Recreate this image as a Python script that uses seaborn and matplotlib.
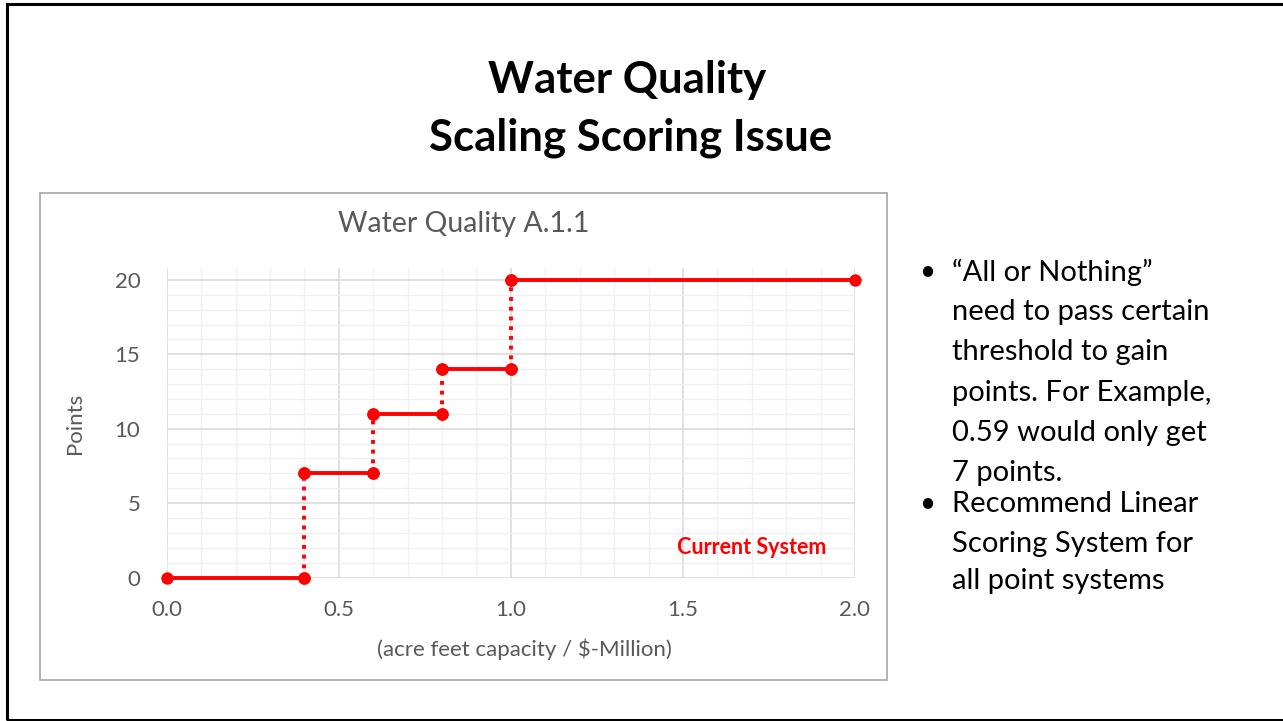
import matplotlib
matplotlib.use('Agg')
import numpy as np
import pandas as pd
import seaborn as sns
import matplotlib.pyplot as plt
from matplotlib.patches import Rectangle
from matplotlib.ticker import MultipleLocator

# ----------------------------- data -----------------------------
thresholds = [0.0, 0.4, 0.6, 0.8, 1.0, 2.0]   # acre feet capacity / $-Million
scores = [0, 7, 11, 14, 20]                    # points awarded per band
x_ticks = [0.0, 0.5, 1.0, 1.5, 2.0]
y_ticks = [0, 5, 10, 15, 20]

title_lines = ["Water Quality", "Scaling Scoring Issue"]
chart_title = "Water Quality A.1.1"
x_label = "(acre feet capacity / \\$-Million)"
y_label = "Points"
series_note = "Current System"
bullets = [
    ["\u201cAll or Nothing\u201d", "need to pass certain", "threshold to gain",
     "points. For Example,", "0.59 would only get", "7 points."],
    ["Recommend Linear", "Scoring System for", "all point systems"],
]

# build step segments: flat bands (solid) and jumps (dotted)
rows = []
seg = 0
for i, s in enumerate(scores):
    rows.append((seg, 'band', thresholds[i], s))
    rows.append((seg, 'band', thresholds[i + 1], s))
    seg += 1
    if i + 1 < len(scores):
        rows.append((seg, 'jump', thresholds[i + 1], s))
        rows.append((seg, 'jump', thresholds[i + 1], scores[i + 1]))
        seg += 1
df = pd.DataFrame(rows, columns=['seg', 'kind', 'x', 'y'])

# ----------------------------- plot -----------------------------
sns.set_theme(style='white')
plt.rcParams['font.family'] = ['Lato', 'DejaVu Sans']

W, H = 1283, 721
fig = plt.figure(figsize=(W / 100, H / 100), dpi=100)
fig.patch.set_facecolor('white')

def fx(px):
    return px / W

def fy(py):
    return 1 - py / H

# slide border and chart frame
fig.patches.append(Rectangle((fx(7), fy(720)), fx(1290) - fx(7), fy(4) - fy(720),
                             transform=fig.transFigure, fill=False,
                             edgecolor='black', linewidth=2.2, zorder=0))
fig.patches.append(Rectangle((fx(40), fy(680)), fx(887) - fx(40), fy(193) - fy(680),
                             transform=fig.transFigure, fill=False,
                             edgecolor='#A6A6A6', linewidth=1.2, zorder=0))

ax = fig.add_axes([fx(166.7), fy(577.5), fx(855) - fx(166.7), fy(268) - fy(577.5)])

red = '#FF0000'
sns.lineplot(data=df, x='x', y='y', units='seg', estimator=None, style='kind',
             dashes={'band': '', 'jump': (1, 1.5)}, color=red, linewidth=2.8,
             legend=False, ax=ax, zorder=3)
for ln in ax.lines:
    ln.set_clip_on(False)
sns.scatterplot(data=df, x='x', y='y', color=red, s=80, edgecolor=red,
                linewidth=0, legend=False, ax=ax, zorder=4, clip_on=False)

ax.set_xlim(0, 2.0)
ax.set_ylim(0, 20.8)
ax.set_xticks(x_ticks)
ax.set_yticks(y_ticks)
ax.set_xticklabels([f"{v:.1f}" for v in x_ticks])
ax.xaxis.set_minor_locator(MultipleLocator(0.1))
ax.yaxis.set_minor_locator(MultipleLocator(1))
ax.grid(which='major', color='#D9D9D9', linewidth=1.1)
ax.grid(which='minor', color='#F0F0F0', linewidth=1.0)
ax.set_axisbelow(True)
for sp in ax.spines.values():
    sp.set_visible(False)
ax.tick_params(axis='both', which='both', length=0, labelsize=16,
               labelcolor='#595959')
ax.tick_params(axis='x', pad=16)
ax.tick_params(axis='y', pad=19)
ax.set_xlabel('')
ax.set_ylabel('')

# axis titles and chart title
fig.text(fx(75), fy(423), y_label, rotation=90, ha='center', va='center',
         fontsize=16, color='#595959')
fig.text(fx(524), fy(649), x_label, ha='center', va='center',
         fontsize=16, color='#595959')
fig.text(fx(464), fy(224), chart_title, ha='center', va='center',
         fontsize=20.5, color='#595959')
fig.text(fx(752), fy(547), series_note, ha='center', va='center',
         fontsize=15.5, color=red, fontweight='bold')

# slide title
fig.text(fx(627), fy(80), title_lines[0], ha='center', va='center',
         fontsize=31.5, fontweight='bold', color='black')
fig.text(fx(631), fy(138), title_lines[1], ha='center', va='center',
         fontsize=31.5, fontweight='bold', color='black')

# bullet list
line_y = [272, 312, 352, 393, 433, 473, 504, 544, 581]
k = 0
for group in bullets:
    for j, line in enumerate(group):
        if j == 0:
            fig.text(fx(927), fy(line_y[k]), "\u2022", ha='center', va='center',
                     fontsize=20, color='black')
        fig.text(fx(952), fy(line_y[k]), line, ha='left', va='center',
                 fontsize=21, color='black')
        k += 1

fig.savefig('out.png', dpi=100, facecolor='white')
